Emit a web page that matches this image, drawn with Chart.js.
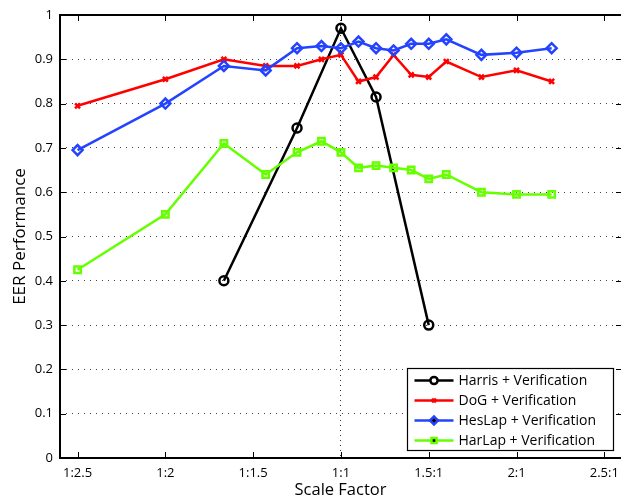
<!DOCTYPE html>
<html>
<head>
<meta charset="utf-8">
<script src="https://cdn.jsdelivr.net/npm/chart.js@4.4.1/dist/chart.umd.min.js"></script>
<style>
html,body{margin:0;padding:0;background:#fff;overflow:hidden;}
canvas{display:block;}
</style>
</head>
<body>
<canvas id="c" width="621" height="498"></canvas>
<script>
// scale factors (image scaling); <1 means downscale (1:x), >1 upscale (x:1)
const scaleFactors = [0.4, 0.5, 0.6, 0.7, 0.8, 0.9, 1.0, 1.1, 1.2, 1.3, 1.4, 1.5, 1.6, 1.8, 2.0, 2.2];
const harris = [null, null, 0.40, null, 0.745, null, 0.97, null, 0.815, null, null, 0.30, null, null, null, null];
const dog    = [0.795, 0.855, 0.90, 0.885, 0.885, 0.90, 0.91, 0.85, 0.86, 0.91, 0.865, 0.86, 0.895, 0.86, 0.875, 0.85];
const heslap = [0.695, 0.80, 0.885, 0.875, 0.925, 0.93, 0.925, 0.94, 0.925, 0.92, 0.935, 0.935, 0.945, 0.91, 0.915, 0.925];
const harlap = [0.425, 0.55, 0.71, 0.64, 0.69, 0.715, 0.69, 0.655, 0.66, 0.655, 0.65, 0.63, 0.64, 0.60, 0.595, 0.595];
const seriesLabels = ['Harris + Verification', 'DoG + Verification', 'HesLap + Verification', 'HarLap + Verification'];
const xTickValues = [-1.5, -1, -0.5, 0, 0.5, 1, 1.5];
const xTickLabels = ['1:2.5', '1:2', '1:1.5', '1:1', '1.5:1', '2:1', '2.5:1'];
const yTickValues = [0, 0.1, 0.2, 0.3, 0.4, 0.5, 0.6, 0.7, 0.8, 0.9, 1];

// axis position: symmetric scale (1:x -> -(x-1), x:1 -> x-1)
const toAxis = s => s < 1 ? 1 - 1 / s : s - 1;
const pts = arr => scaleFactors.map((s, i) => ({x: toAxis(s), y: arr[i]}));

const FONT = '"Open Sans", "DejaVu Sans", sans-serif';
const styles = [
  {color: '#000000', pointStyle: 'circle', radius: 4.5},
  {color: '#ff0000', pointStyle: 'crossRot', radius: 3.5},
  {color: '#2443ff', pointStyle: 'rectRot', radius: 5},
  {color: '#66ff00', pointStyle: 'rect', radius: 4.5}
];
const allData = [harris, dog, heslap, harlap];

const datasets = allData.map((d, i) => ({
  label: seriesLabels[i],
  data: pts(d),
  borderColor: styles[i].color,
  backgroundColor: '#ffffff',
  borderWidth: 2.5,
  pointStyle: styles[i].pointStyle,
  pointRadius: styles[i].radius,
  pointBorderWidth: 2.5,
  pointBorderColor: styles[i].color,
  pointBackgroundColor: 'rgba(255,255,255,0)',
  spanGaps: true,
  tension: 0,
  order: 4 - i
}));

const framePlugin = {
  id: 'frame',
  afterDraw(chart) {
    const ctx = chart.ctx, a = chart.chartArea;
    const xs = chart.scales.x, ys = chart.scales.y;
    ctx.save();
    ctx.strokeStyle = '#000';
    ctx.lineWidth = 1;
    // inward ticks
    xTickValues.forEach(v => {
      const px = Math.round(xs.getPixelForValue(v)) + 0.5;
      ctx.beginPath();
      ctx.moveTo(px, a.bottom); ctx.lineTo(px, a.bottom - 6);
      ctx.moveTo(px, a.top); ctx.lineTo(px, a.top + 6);
      ctx.stroke();
    });
    yTickValues.forEach(v => {
      const py = Math.round(ys.getPixelForValue(v)) + 0.5;
      ctx.beginPath();
      ctx.moveTo(a.left, py); ctx.lineTo(a.left + 6, py);
      ctx.moveTo(a.right + 1, py); ctx.lineTo(a.right - 5, py);
      ctx.stroke();
    });
    // frame (right side lies just beyond the visible area)
    ctx.lineWidth = 2;
    ctx.beginPath();
    ctx.moveTo(a.right + 2, a.top); ctx.lineTo(a.left, a.top);
    ctx.lineTo(a.left, a.bottom); ctx.lineTo(a.right + 2, a.bottom);
    ctx.stroke();

    // legend
    const bw = 206, bh = 82;
    const bx = Math.round(a.right - 8 - bw) + 0.5, by = Math.round(a.bottom - 8 - bh) + 0.5;
    ctx.fillStyle = '#fff';
    ctx.fillRect(bx, by, bw, bh);
    ctx.lineWidth = 1.2;
    ctx.strokeStyle = '#000';
    ctx.strokeRect(bx, by, bw, bh);
    ctx.font = '14px ' + FONT;
    ctx.textBaseline = 'middle';
    ctx.textAlign = 'left';
    chart.data.datasets.forEach((ds, i) => {
      const cy = by + 12 + i * 20;
      ctx.strokeStyle = ds.borderColor;
      ctx.lineWidth = 2.5;
      ctx.beginPath();
      ctx.moveTo(bx + 7, cy); ctx.lineTo(bx + 46, cy);
      ctx.stroke();
      Chart.helpers.drawPoint(ctx, {pointStyle: ds.pointStyle, radius: ds.pointRadius * 0.8, borderWidth: 2}, bx + 26.5, cy);
      ctx.fillStyle = '#000';
      ctx.fillText(ds.label, bx + 51, cy + 1);
    });
    ctx.restore();
  }
};

new Chart(document.getElementById('c'), {
  type: 'line',
  data: {datasets},
  options: {
    responsive: false,
    animation: false,
    events: [],
    layout: {autoPadding: false, padding: {left: 0, top: 15, right: 0, bottom: 0}},
    plugins: {legend: {display: false}, tooltip: {enabled: false}},
    scales: {
      x: {
        type: 'linear',
        min: -1.6, max: 1.595,
        afterFit: s => { s.height = 40; s.paddingLeft = 0; s.paddingRight = 0; },
        afterBuildTicks: s => { s.ticks = xTickValues.map(v => ({value: v})); },
        ticks: {
          autoSkip: false, maxRotation: 0,
          color: '#000', font: {family: FONT, size: 13}, padding: 7,
          callback: (v) => { const k = xTickValues.indexOf(v); return k >= 0 ? xTickLabels[k] : ''; }
        },
        grid: {
          drawTicks: false,
          lineWidth: 1,
          color: c => (c.tick && c.tick.value === 0) ? '#333' : 'rgba(0,0,0,0)'
        },
        border: {display: false, dash: [1, 4]},
        title: {display: true, text: 'Scale Factor', color: '#000', font: {family: FONT, size: 16.5}, padding: {top: 0, bottom: -2}}
      },
      y: {
        type: 'linear',
        min: 0, max: 1,
        afterFit: s => { s.width = 60; s.paddingTop = 0; s.paddingBottom = 0; },
        afterBuildTicks: s => { s.ticks = yTickValues.map(v => ({value: v})); },
        ticks: {
          color: '#000', font: {family: FONT, size: 13}, padding: 7,
          callback: v => String(Math.round(v * 10) / 10)
        },
        grid: {
          drawTicks: false,
          lineWidth: 1,
          color: c => (c.tick && c.tick.value > 0.01 && c.tick.value < 0.99) ? '#444' : 'rgba(0,0,0,0)'
        },
        border: {display: false, dash: [1, 5]},
        title: {display: true, text: 'EER Performance', color: '#000', font: {family: FONT, size: 17}, padding: {top: 10, bottom: 2}}
      }
    }
  },
  plugins: [framePlugin]
});
</script>
</body>
</html>
